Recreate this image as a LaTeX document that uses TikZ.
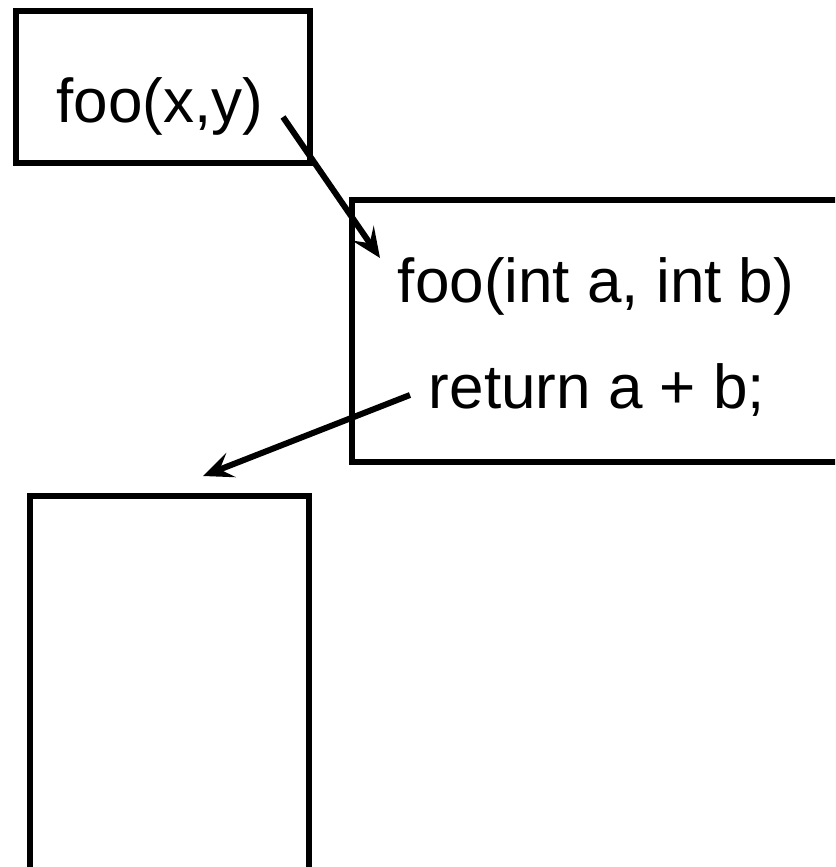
\documentclass[tikz,border=0pt]{standalone}
\usepackage{fontspec}
\setmainfont{Liberation Sans}
\usetikzlibrary{arrows.meta}
\begin{document}
\begin{tikzpicture}[x=1pt,y=-1pt,
  boxstyle/.style={draw=black, line width=6.5pt, rectangle, inner sep=0pt},
  txt/.style={inner sep=0pt, font=\fontsize{62}{74}\selectfont},
  conn/.style={line width=6pt, -{Stealth[length=30pt,width=26pt,inset=12pt]}}]
\useasboundingbox (0,0) rectangle (835,867);
\clip (0,0) rectangle (835,867);
\fill[white] (0,0) rectangle (835,867);
% boxes
\node[boxstyle, minimum width=294pt, minimum height=152pt] (b1) at (163,87) {};
\node[boxstyle, minimum width=488pt, minimum height=262pt] (b2) at (596,331) {};
\node[boxstyle, minimum width=279pt, minimum height=384pt] (b3) at (169.5,688) {};
% texts
\node[txt, anchor=base] (t1) at (160,122) {foo(x,y)};
\node[txt, anchor=base] (t2) at (596,302) {foo(int a, int b)};
\node[txt, anchor=base] (t3) at (597,408) {return a + b;};
% connectors
\coordinate (a1s) at (283,117);
\coordinate (a1e) at (380,258);
\coordinate (a2s) at (410,395);
\coordinate (a2e) at (203,476);
\draw[conn] (a1s) -- (a1e);
\draw[conn] (a2s) -- (a2e);
\end{tikzpicture}
\end{document}
